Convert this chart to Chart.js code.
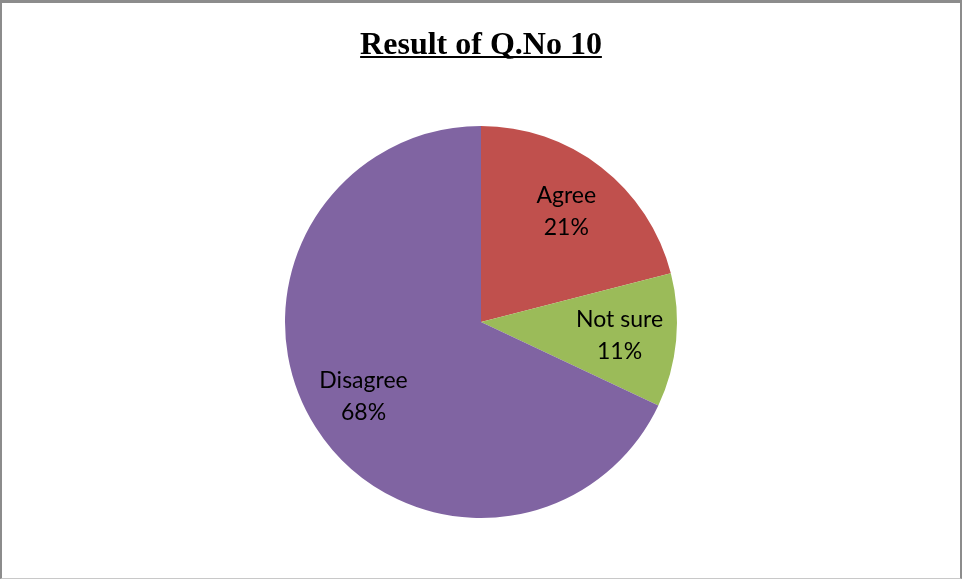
<!DOCTYPE html>
<html lang="en">
<head>
    <meta charset="UTF-8">
    <title>Result of Q.No 10</title>
    <script src="https://cdn.jsdelivr.net/npm/chart.js"></script>
    <style>
        body {
            margin: 0;
            padding: 0;
            background: #fff;
        }
        #wrap {
            position: relative;
            width: 962px;
            height: 579px;
        }
        #frame {
            position: absolute;
            left: 0; top: 0;
            width: 962px;
            height: 579px;
            box-sizing: border-box;
            border-top: 3px solid #8c8c8c;
            border-left: 2px solid #8c8c8c;
            border-right: 2px solid #8c8c8c;
            border-bottom: 1px solid #c8c8c8;
            pointer-events: none;
        }
    </style>
</head>
<body>
<div id="wrap">
    <canvas id="pie" width="962" height="579"></canvas>
    <div id="frame"></div>
</div>
<script>
    const titleText = 'Result of Q.No 10';
    const categories = ['Agree', 'Not sure', 'Disagree'];
    const percents = [21, 11, 68];
    const colors = ['#C0504D', '#9BBB59', '#8064A2'];

    // title + slice labels drawn by hand (underline, two-line labels)
    const extras = {
        id: 'extras',
        afterDraw(chart) {
            const ctx = chart.ctx;
            ctx.save();
            ctx.fillStyle = '#000';
            ctx.font = 'bold 32px "Liberation Serif"';
            ctx.textAlign = 'center';
            ctx.textBaseline = 'alphabetic';
            const tx = 481, ty = 54;
            ctx.fillText(titleText, tx, ty);
            const w = ctx.measureText(titleText).width;
            ctx.fillRect(tx - w / 2, 56, w, 2);

            ctx.font = '23px Lato';
            ctx.textBaseline = 'middle';
            const arcs = chart.getDatasetMeta(0).data;
            arcs.forEach((arc, i) => {
                const p = arc.getProps(['x', 'y', 'startAngle', 'endAngle', 'outerRadius'], true);
                const mid = (p.startAngle + p.endAngle) / 2;
                const r = p.outerRadius * 0.71;
                const cx = p.x + Math.cos(mid) * r;
                const cy = p.y + Math.sin(mid) * r;
                ctx.fillText(categories[i], cx, cy - 16);
                ctx.fillText(percents[i] + '%', cx, cy + 16);
            });
            ctx.restore();
        }
    };

    new Chart(document.getElementById('pie'), {
        type: 'pie',
        data: {
            labels: categories,
            datasets: [{
                data: percents,
                backgroundColor: colors,
                borderWidth: 0
            }]
        },
        options: {
            responsive: false,
            animation: false,
            layout: {
                padding: { top: 126, bottom: 61, left: 285, right: 285 }
            },
            plugins: {
                legend: { display: false },
                tooltip: { enabled: false }
            }
        },
        plugins: [extras]
    });
</script>
</body>
</html>
